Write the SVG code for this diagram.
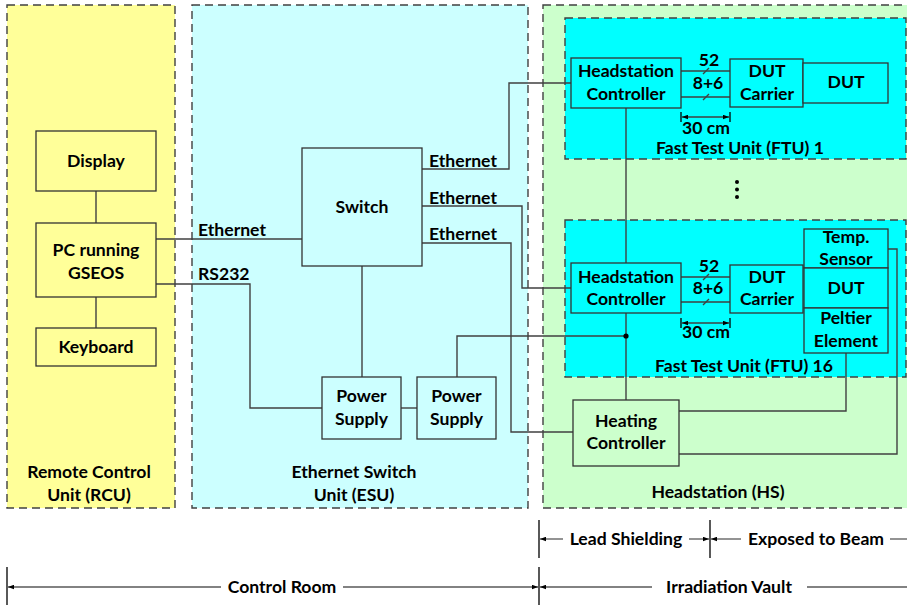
<svg xmlns="http://www.w3.org/2000/svg" width="907" height="605" viewBox="0 0 907 605">
  <style>
    text { font-family: Lato, "Liberation Sans", sans-serif; font-weight: bold; font-size: 17.6px; fill: #000; text-anchor: middle; }
    .lbl { text-anchor: start; }
    .panel { stroke: #404040; stroke-width: 1.4; stroke-dasharray: 8 5; }
    .box { stroke: #333; stroke-width: 1.3; }
    .wire { fill: none; stroke: #404040; stroke-width: 1.4; }
    .dim { fill: none; stroke: #595959; stroke-width: 1.3; }
    .tick { stroke: #000; stroke-width: 1.3; }
  </style>
  <defs>
    <marker id="arr" viewBox="0 0 8 6" refX="8" refY="3" markerWidth="6" markerHeight="5" markerUnits="userSpaceOnUse" orient="auto-start-reverse">
      <path d="M0,0 L8,3 L0,6 z" fill="#000"/>
    </marker>
  </defs>

  <!-- Panels -->
  <g id="rcu">
    <rect class="panel" x="7" y="5" width="168" height="503" fill="#FFFF99"/>
    <text x="89" y="478">Remote Control</text>
    <text x="89" y="501">Unit (RCU)</text>
  </g>
  <g id="esu">
    <rect class="panel" x="192" y="5" width="336" height="503" fill="#CCFFFF"/>
    <text x="354" y="478">Ethernet Switch</text>
    <text x="354" y="501">Unit (ESU)</text>
  </g>
  <g id="hs">
    <rect class="panel" x="543" y="5" width="370" height="503" fill="#CCFFCC"/>
    <text x="718" y="498">Headstation (HS)</text>
  </g>
  <g id="ftu1">
    <rect class="panel" x="565" y="18" width="341" height="141" fill="#00FFFF"/>
    <text x="740" y="154">Fast Test Unit (FTU) 1</text>
  </g>
  <g id="ftu16">
    <rect class="panel" x="565" y="220" width="341" height="157" fill="#00FFFF"/>
    <text x="744" y="372">Fast Test Unit (FTU) 16</text>
  </g>

  <!-- Connectors -->
  <g id="connectors">
    <path class="wire" d="M96,191 V223"/>
    <path class="wire" d="M96,297 V328"/>
    <path class="wire" d="M156,239 H302"/>
    <path class="wire" d="M156,284 H250 V408 H322"/>
    <path class="wire" d="M362,266 V377"/>
    <path class="wire" d="M401,408 H417"/>
    <path class="wire" d="M457,377 V336 H626"/>
    <path class="wire" d="M422,169 H509 V83 H571"/>
    <path class="wire" d="M422,206 H522 V288 H571"/>
    <path class="wire" d="M422,243 H511 V432 H573"/>
    <path class="wire" d="M626,108 V263"/>
    <path class="wire" d="M626,313 V400"/>
    <path class="wire" d="M681,71 H730 M681,97 H730"/>
    <path class="wire" d="M703,74 L709,68 M703,100 L709,94"/>
    <path class="wire" d="M681,277 H730 M681,302 H730"/>
    <path class="wire" d="M703,280 L709,274 M703,305 L709,299"/>
    <path class="wire" d="M888,249 H897 V454 H679"/>
    <path class="wire" d="M846,353 V411 H679"/>
    <circle cx="626" cy="336" r="2.6" fill="#000"/>
    <text class="lbl" x="198" y="236">Ethernet</text>
    <text class="lbl" x="198" y="280">RS232</text>
    <text class="lbl" x="429" y="167">Ethernet</text>
    <text class="lbl" x="429" y="204">Ethernet</text>
    <text class="lbl" x="429" y="240">Ethernet</text>
    <text x="709" y="66">52</text>
    <text x="708" y="89">8+6</text>
    <text x="709" y="272">52</text>
    <text x="708" y="294">8+6</text>
    <!-- 30 cm cable length markers -->
    <path class="tick" d="M681,112 V122 M730,112 V122 M681,318 V328 M730,318 V328"/>
    <path class="wire" stroke="#000" d="M682,117 H729" marker-start="url(#arr)" marker-end="url(#arr)"/>
    <path class="wire" stroke="#000" d="M682,323 H729" marker-start="url(#arr)" marker-end="url(#arr)"/>
    <text x="706" y="134">30 cm</text>
    <text x="706" y="338">30 cm</text>
    <!-- continuation dots between FTUs -->
    <circle cx="737" cy="182" r="2" fill="#000"/>
    <circle cx="737" cy="189.5" r="2" fill="#000"/>
    <circle cx="737" cy="197" r="2" fill="#000"/>
  </g>

  <!-- Control room nodes -->
  <g id="display">
    <rect class="box" x="36" y="131" width="120" height="60" fill="#FFFF99"/>
    <text x="96" y="167">Display</text>
  </g>
  <g id="pc">
    <rect class="box" x="36" y="223" width="120" height="74" fill="#FFFF99"/>
    <text x="96" y="256">PC running</text>
    <text x="96" y="279">GSEOS</text>
  </g>
  <g id="keyboard">
    <rect class="box" x="36" y="328" width="120" height="38" fill="#FFFF99"/>
    <text x="96" y="353">Keyboard</text>
  </g>
  <g id="switch">
    <rect class="box" x="302" y="148" width="120" height="118" fill="#CCFFFF"/>
    <text x="362" y="213">Switch</text>
  </g>
  <g id="psu1">
    <rect class="box" x="322" y="377" width="79" height="62" fill="#CCFFFF"/>
    <text x="361.5" y="402">Power</text>
    <text x="361.5" y="425">Supply</text>
  </g>
  <g id="psu2">
    <rect class="box" x="417" y="377" width="79" height="62" fill="#CCFFFF"/>
    <text x="456.5" y="402">Power</text>
    <text x="456.5" y="425">Supply</text>
  </g>

  <!-- FTU 1 nodes -->
  <g id="hc1">
    <rect class="box" x="571" y="58" width="110" height="50" fill="#00FFFF"/>
    <text x="626" y="77">Headstation</text>
    <text x="626" y="100">Controller</text>
  </g>
  <g id="carrier1">
    <rect class="box" x="730" y="59" width="73" height="48" fill="#00FFFF"/>
    <text x="767" y="77">DUT</text>
    <text x="767" y="100">Carrier</text>
  </g>
  <g id="dut1">
    <rect class="box" x="803" y="63" width="85" height="40" fill="#00FFFF"/>
    <text x="846" y="88">DUT</text>
  </g>

  <!-- FTU 16 nodes -->
  <g id="hc16">
    <rect class="box" x="571" y="263" width="110" height="50" fill="#00FFFF"/>
    <text x="626" y="283">Headstation</text>
    <text x="626" y="305">Controller</text>
  </g>
  <g id="carrier16">
    <rect class="box" x="730" y="265" width="73" height="48" fill="#00FFFF"/>
    <text x="767" y="283">DUT</text>
    <text x="767" y="305">Carrier</text>
  </g>
  <g id="tempsensor">
    <rect class="box" x="804" y="229" width="84" height="39" fill="#00FFFF"/>
    <text x="846" y="243">Temp.</text>
    <text x="846" y="265">Sensor</text>
  </g>
  <g id="dut16">
    <rect class="box" x="804" y="268" width="84" height="40" fill="#00FFFF"/>
    <text x="846" y="294">DUT</text>
  </g>
  <g id="peltier">
    <rect class="box" x="804" y="308" width="84" height="45" fill="#00FFFF"/>
    <text x="846" y="324">Peltier</text>
    <text x="846" y="347">Element</text>
  </g>
  <g id="heating">
    <rect class="box" x="573" y="400" width="106" height="66" fill="#CCFFCC"/>
    <text x="626" y="427">Heating</text>
    <text x="626" y="449">Controller</text>
  </g>

  <!-- Location ranges -->
  <g id="ranges">
    <path class="tick" d="M539,520 V558 M710,520 V558 M539,567 V605 M7,567 V605"/>
    <path class="dim" d="M563,539 H540" marker-end="url(#arr)"/>
    <path class="dim" d="M689,539 H709" marker-end="url(#arr)"/>
    <path class="dim" d="M741,539 H711" marker-end="url(#arr)"/>
    <path class="dim" d="M890,539 H907"/>
    <text x="626" y="545">Lead Shielding</text>
    <text x="816" y="545">Exposed to Beam</text>
    <path class="dim" d="M221,587 H8" marker-end="url(#arr)"/>
    <path class="dim" d="M343,587 H538" marker-end="url(#arr)"/>
    <path class="dim" d="M652,587 H540" marker-end="url(#arr)"/>
    <path class="dim" d="M807,587 H907"/>
    <text x="282" y="593">Control Room</text>
    <text x="729" y="593">Irradiation Vault</text>
  </g>
</svg>
